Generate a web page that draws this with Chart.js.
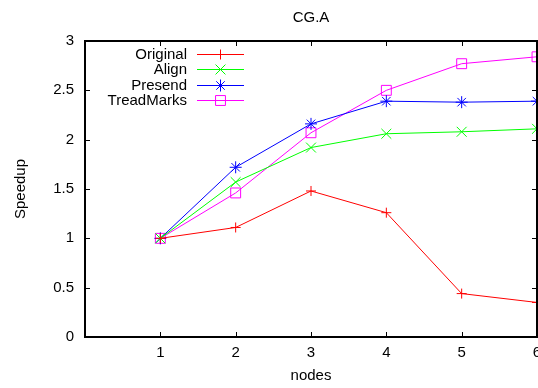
<!DOCTYPE html>
<html>
<head>
<meta charset="utf-8">
<title>CG.A</title>
<script src="https://cdn.jsdelivr.net/npm/chart.js@4/dist/chart.umd.min.js"></script>
<style>
  html, body { margin: 0; padding: 0; background: #fff; }
  #wrap { position: relative; width: 538px; height: 388px; }
</style>
</head>
<body>
<div id="wrap"><canvas id="chart"></canvas></div>
<script>
// x axis: number of nodes
const nodes = [1, 2, 3, 4, 5, 6];

// speedup for each version
const original   = [1.00, 1.11, 1.48, 1.26, 0.44, 0.35];
const align      = [1.00, 1.57, 1.92, 2.06, 2.08, 2.11];
const presend    = [1.00, 1.72, 2.16, 2.39, 2.38, 2.39];
const treadMarks = [1.00, 1.46, 2.07, 2.50, 2.77, 2.84];

const seriesNames  = ['Original', 'Align', 'Presend', 'TreadMarks'];
const seriesValues = [original, align, presend, treadMarks];
const seriesColors = ['#ff0000', '#00ff00', '#0000ff', '#ff00ff'];
const seriesMarks  = ['cross', 'crossRot', 'star', 'rect'];
const markSizes    = [5, 7, 6, 7];

const xTicks = [0, 1, 2, 3, 4, 5, 6];
const yTicks = [0, 0.5, 1, 1.5, 2, 2.5, 3];

const FONT = { family: '"Liberation Sans", Arial, Helvetica, sans-serif', size: 15 };
Chart.defaults.font.family = FONT.family;
Chart.defaults.color = '#000';

const datasets = seriesNames.map((name, i) => ({
  label: name,
  data: nodes.map((n, j) => ({ x: n, y: seriesValues[i][j] })),
  borderColor: seriesColors[i],
  backgroundColor: 'rgba(0,0,0,0)',
  borderWidth: 1,
  pointStyle: seriesMarks[i],
  pointRadius: markSizes[i],
  pointBorderWidth: 1,
  pointBorderColor: seriesColors[i],
  pointBackgroundColor: 'rgba(0,0,0,0)',
  tension: 0,
  clip: false
}));

// small marker drawer for the key (same shapes as the point styles)
function drawMark(ctx, style, r, x, y) {
  ctx.beginPath();
  if (style === 'cross' || style === 'star') {
    ctx.moveTo(x - r, y); ctx.lineTo(x + r, y);
    ctx.moveTo(x, y - r); ctx.lineTo(x, y + r);
  }
  if (style === 'crossRot' || style === 'star') {
    const d = r * Math.SQRT1_2;
    ctx.moveTo(x - d, y - d); ctx.lineTo(x + d, y + d);
    ctx.moveTo(x - d, y + d); ctx.lineTo(x + d, y - d);
  }
  if (style === 'rect') {
    const s = r * Math.SQRT1_2;
    ctx.rect(x - s, y - s, 2 * s, 2 * s);
  }
  ctx.stroke();
}

// gnuplot-like box with inward ticks on all four sides
const framePlugin = {
  id: 'frame',
  afterDatasetsDraw(chart) {
    const { ctx, chartArea: a, scales } = chart;
    const tick = 5;
    ctx.save();
    ctx.strokeStyle = '#000';
    ctx.lineWidth = 1;
    ctx.beginPath();
    scales.x.ticks.forEach(t => {
      if (t.value <= 0 || t.value >= 6) return;
      const px = Math.round(scales.x.getPixelForValue(t.value)) + 0.5;
      ctx.moveTo(px, a.bottom); ctx.lineTo(px, a.bottom - tick);
      ctx.moveTo(px, a.top); ctx.lineTo(px, a.top + tick);
    });
    scales.y.ticks.forEach(t => {
      if (t.value <= 0 || t.value >= 3) return;
      const py = Math.round(scales.y.getPixelForValue(t.value)) + 0.5;
      ctx.moveTo(a.left, py); ctx.lineTo(a.left + tick, py);
      ctx.moveTo(a.right, py); ctx.lineTo(a.right - tick, py);
    });
    ctx.stroke();
    ctx.lineWidth = 2;
    ctx.strokeRect(a.left, a.top, a.right - a.left, a.bottom - a.top);
    ctx.restore();
  }
};

// key in the top-left corner: right-aligned name, then a line sample with its marker
const keyPlugin = {
  id: 'key',
  afterDraw(chart) {
    const { ctx } = chart;
    const textRight = 187, lineFrom = 197, lineTo = 244, rowTop = 54, rowStep = 15.4;
    ctx.save();
    ctx.font = FONT.size + 'px ' + FONT.family;
    ctx.textAlign = 'right';
    ctx.textBaseline = 'middle';
    chart.data.datasets.forEach((ds, i) => {
      const y = Math.round(rowTop + i * rowStep) + 0.5;
      ctx.fillStyle = '#000';
      ctx.fillText(ds.label, textRight, y);
      ctx.strokeStyle = ds.borderColor;
      ctx.lineWidth = 1;
      ctx.beginPath();
      ctx.moveTo(lineFrom, y); ctx.lineTo(lineTo, y);
      ctx.stroke();
      drawMark(ctx, ds.pointStyle, ds.pointRadius, (lineFrom + lineTo) / 2, y);
    });
    ctx.restore();
  }
};

// keep the plot box fixed: no extra room reserved for edge labels
const noEdgePadding = () => ({ left: 0, top: 0, right: 0, bottom: 0 });

new Chart(document.getElementById('chart'), {
  type: 'line',
  data: { datasets },
  options: {
    responsive: true,
    maintainAspectRatio: false,
    animation: false,
    layout: { autoPadding: false, padding: { left: 0, right: 1, top: 0, bottom: 0 } },
    plugins: {
      legend: { display: false },
      tooltip: { enabled: false },
      title: {
        display: true,
        text: 'CG.A',
        fullSize: false,
        color: '#000',
        font: { size: FONT.size, weight: 'normal' },
        padding: { top: 9, bottom: 14 }
      }
    },
    scales: {
      x: {
        type: 'linear',
        min: 0,
        max: 6,
        afterBuildTicks: s => { s.ticks = xTicks.map(v => ({ value: v })); },
        afterFit: s => {
          s.height = 51;
          s.paddingLeft = 0; s.paddingRight = 0;
          s.getPadding = noEdgePadding;
        },
        ticks: {
          padding: 7,
          maxRotation: 0,
          autoSkip: false,
          color: '#000',
          font: { size: FONT.size },
          callback: v => (v === 0 ? '' : String(v))
        },
        grid: { display: false, drawTicks: false },
        border: { display: false },
        title: {
          display: true,
          text: 'nodes',
          color: '#000',
          font: { size: FONT.size },
          padding: { top: 0, bottom: 3 }
        }
      },
      y: {
        min: 0,
        max: 3,
        afterBuildTicks: s => { s.ticks = yTicks.map(v => ({ value: v })); },
        afterFit: s => {
          s.width = 85;
          s.paddingTop = 0; s.paddingBottom = 0;
          s.getPadding = noEdgePadding;
        },
        ticks: {
          padding: 11,
          color: '#000',
          font: { size: FONT.size },
          callback: v => String(v)
        },
        grid: { display: false, drawTicks: false },
        border: { display: false },
        title: {
          display: true,
          text: 'Speedup',
          color: '#000',
          font: { size: FONT.size },
          padding: { top: 12, bottom: 0 }
        }
      }
    }
  },
  plugins: [framePlugin, keyPlugin]
});
</script>
</body>
</html>
